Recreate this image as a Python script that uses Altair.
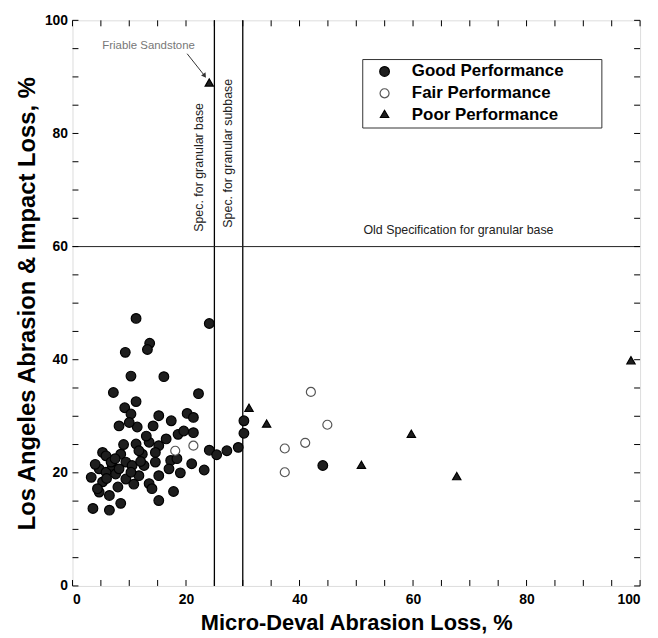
import altair as alt
import pandas as pd

# ---------------- data ----------------
good_x = [11.2, 24.1, 9.3, 13.6, 13.2, 10.3, 16.1, 7.2, 22.2, 11.2, 9.2, 10.3, 15.2, 17.4, 20.2, 21.3,
          8.2, 11.4, 14.2, 10.0, 18.6, 19.6, 21.3, 11.2, 13.5, 15.2, 8.5, 5.3, 12.3, 14.6, 17.3, 18.4,
          21.0, 23.2, 24.1, 25.4, 27.2, 29.2, 30.2, 30.2, 3.3, 4.7, 5.9, 7.0, 3.6, 6.5, 8.5, 4.7,
          6.5, 15.2, 17.8, 13.5, 14.0, 11.7, 9.4, 7.6, 5.3, 4.4, 5.9, 6.8, 9.4, 10.5, 8.2, 10.3,
          12.6, 11.7, 14.6, 17.0, 15.2, 44.1, 6.0, 8.0, 12.0, 9.0, 13.0, 16.5, 19.0, 7.5, 4.0, 10.8]
good_y = [47.3, 46.4, 41.3, 42.9, 41.8, 37.1, 37.0, 34.2, 34.0, 32.6, 31.5, 30.4, 30.1, 29.2, 30.5, 29.8,
          28.3, 28.1, 28.3, 28.9, 26.8, 27.4, 27.1, 25.1, 25.4, 24.8, 23.3, 23.6, 23.3, 21.9, 22.2, 22.5,
          21.6, 20.5, 24.0, 23.2, 23.9, 24.5, 27.0, 29.2, 19.2, 20.7, 20.1, 21.3, 13.7, 13.4, 14.6, 16.6,
          16.0, 15.1, 16.7, 18.1, 17.2, 19.5, 18.9, 19.8, 18.4, 17.2, 23.0, 21.9, 21.9, 21.3, 20.7, 20.1,
          21.3, 23.9, 23.6, 20.7, 19.5, 21.3, 19.0, 17.5, 22.0, 25.0, 26.5, 26.0, 20.0, 22.5, 21.5, 18.0]
fair_x = [21.3, 18.1, 42.0, 44.9, 41.0, 37.4, 37.4]
fair_y = [24.8, 23.9, 34.3, 28.5, 25.3, 24.3, 20.1]
poor_x = [31.1, 34.2, 50.9, 59.7, 67.7, 98.4, 24.1]
poor_y = [31.3, 28.5, 21.2, 26.7, 19.2, 39.7, 88.8]

categories = ["Good Performance", "Fair Performance", "Poor Performance"]

major_ticks = [0, 20, 40, 60, 80, 100]
minor_ticks = [5, 10, 15, 25, 30, 35, 45, 50, 55, 65, 70, 75, 85, 90, 95]

spec_lines_x = [25, 30]
old_spec_y = [60]

W, H = 572, 570
FONT = "Liberation Sans"
PAD_TAIL = " " * 7 + "\u200b"   # keeps trailing room inside the legend frame

rows = ([{"x": a, "y": b, "perf": categories[0]} for a, b in zip(good_x, good_y)] +
        [{"x": a, "y": b, "perf": categories[1]} for a, b in zip(fair_x, fair_y)] +
        [{"x": a, "y": b, "perf": categories[2]} for a, b in zip(poor_x, poor_y)])
df = pd.DataFrame(rows)

xs = alt.Scale(domain=[0, 100], nice=False, zero=False)
ys = alt.Scale(domain=[0, 100], nice=False, zero=False)

leg = alt.Legend(title=None, orient="none", legendX=292, legendY=39,
                 strokeColor="#333", padding=4, rowPadding=4, symbolOffset=10,
                 labelFont=FONT, labelFontSize=17, labelFontWeight="bold", labelColor="black",
                 labelOffset=19, symbolSize=60, symbolStrokeWidth=1.2, labelLimit=400,
                 labelExpr="datum.label + '" + PAD_TAIL + "'")

points = alt.Chart(df).mark_point(filled=True, opacity=1, strokeWidth=1.2).encode(
    x=alt.X("x:Q", scale=xs,
            axis=alt.Axis(values=major_ticks, title="Micro-Deval Abrasion Loss, %", grid=False,
                          ticks=False, domain=False, labelPadding=7,
                          labelFont=FONT, labelFontSize=14, labelFontWeight="bold", labelColor="black",
                          titleFont=FONT, titleFontSize=22, titleFontWeight="bold", titleColor="black",
                          titlePadding=6)),
    y=alt.Y("y:Q", scale=ys,
            axis=alt.Axis(values=major_ticks, title="Los Angeles Abrasion & Impact Loss, %", grid=False,
                          ticks=False, domain=False, labelPadding=5,
                          labelFont=FONT, labelFontSize=14, labelFontWeight="bold", labelColor="black",
                          titleFont=FONT, titleFontSize=24, titleFontWeight="bold", titleColor="black",
                          titlePadding=5)),
    shape=alt.Shape("perf:N", scale=alt.Scale(domain=categories, range=["circle", "circle", "triangle"]), legend=leg),
    fill=alt.Fill("perf:N", scale=alt.Scale(domain=categories, range=["#1e1e1e", "white", "#1e1e1e"]), legend=leg),
    stroke=alt.Stroke("perf:N", scale=alt.Scale(domain=categories, range=["#000000", "#555555", "#000000"]), legend=leg),
    size=alt.Size("perf:N", scale=alt.Scale(domain=categories, range=[95, 70, 60]), legend=leg),
)

vlines = alt.Chart(pd.DataFrame({"x": spec_lines_x})).mark_rule(color="black", strokeWidth=1.3).encode(
    x=alt.X("x:Q", scale=xs))
hline = alt.Chart(pd.DataFrame({"y": old_spec_y})).mark_rule(color="#222", strokeWidth=1).encode(
    y=alt.Y("y:Q", scale=ys))

# inward ticks
tick_df = pd.DataFrame({"v": major_ticks + minor_ticks})
tick_style = dict(color="black", strokeWidth=1)
bt = alt.Chart(tick_df).mark_rule(**tick_style).encode(
    x=alt.X("v:Q", scale=xs), y=alt.value(H), y2=alt.value(H - 6))
tt = alt.Chart(tick_df).mark_rule(**tick_style).encode(
    x=alt.X("v:Q", scale=xs), y=alt.value(0), y2=alt.value(6))
lt = alt.Chart(tick_df).mark_rule(**tick_style).encode(
    y=alt.Y("v:Q", scale=ys), x=alt.value(0), x2=alt.value(6))
rt = alt.Chart(tick_df).mark_rule(**tick_style).encode(
    y=alt.Y("v:Q", scale=ys), x=alt.value(W), x2=alt.value(W - 6))

# annotations
spec_text = ["Spec. for granular base", "Spec. for granular subbase"]
spec_tx = [22.3, 27.4]
spec_ty = [74.0, 76.5]
spec_df = pd.DataFrame({"t": spec_text, "x": spec_tx, "y": spec_ty})
spec_lbl = alt.Chart(spec_df).mark_text(angle=270, font=FONT, fontSize=12.5, color="#222").encode(
    x=alt.X("x:Q", scale=xs), y=alt.Y("y:Q", scale=ys), text="t:N")

old_df = pd.DataFrame({"t": ["Old Specification for granular base"], "x": [68.0], "y": [62.9]})
old_lbl = alt.Chart(old_df).mark_text(font=FONT, fontSize=12.5, color="#222").encode(
    x=alt.X("x:Q", scale=xs), y=alt.Y("y:Q", scale=ys), text="t:N")

fri_df = pd.DataFrame({"t": ["Friable Sandstone"], "x": [13.4], "y": [95.4]})
fri_lbl = alt.Chart(fri_df).mark_text(font=FONT, fontSize=11.5, color="#777").encode(
    x=alt.X("x:Q", scale=xs), y=alt.Y("y:Q", scale=ys), text="t:N")

arrow_x, arrow_y, arrow_x2, arrow_y2 = [20.2], [94.1], [23.2], [90.3]
arr_df = pd.DataFrame({"x": arrow_x, "y": arrow_y, "x2": arrow_x2, "y2": arrow_y2})
arr_line = alt.Chart(arr_df).mark_rule(color="#333", strokeWidth=1).encode(
    x=alt.X("x:Q", scale=xs), y=alt.Y("y:Q", scale=ys), x2="x2:Q", y2="y2:Q")
arr_head = alt.Chart(arr_df).mark_point(shape="triangle", filled=True, color="#333", size=30,
                                         angle=145, opacity=1).encode(
    x=alt.X("x2:Q", scale=xs), y=alt.Y("y2:Q", scale=ys))

chart = alt.layer(vlines, hline, bt, tt, lt, rt, spec_lbl, old_lbl, fri_lbl, arr_line, arr_head, points).properties(
    width=W, height=H,
    autosize=alt.AutoSizeParams(type="none"),
    padding={"left": 65, "top": 10, "right": 10, "bottom": 48},
).configure_view(stroke="black", strokeWidth=1.5).configure(background="white")

chart.save("out.html", embed_options={"renderer": "svg", "actions": False})
